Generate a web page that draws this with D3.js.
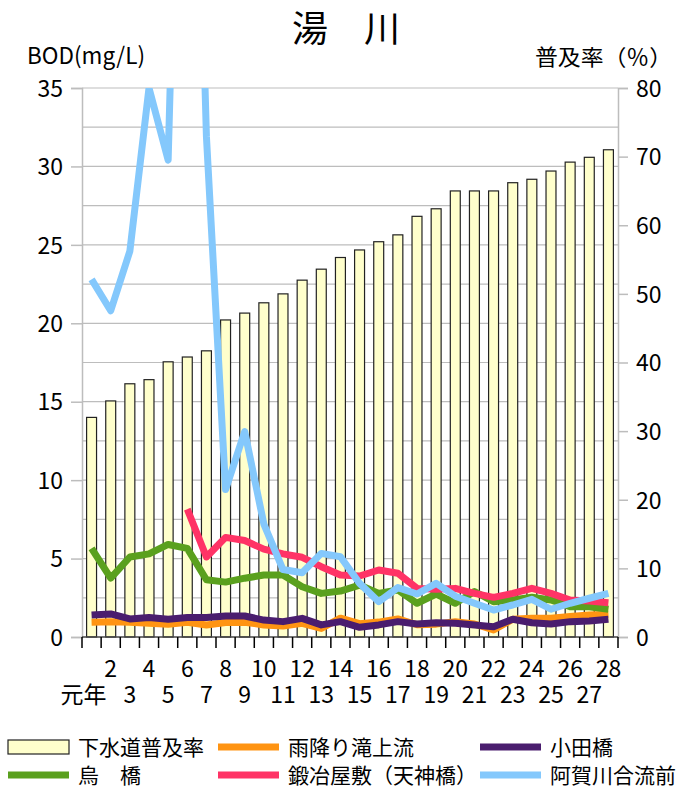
<!DOCTYPE html>
<html>
<head>
<meta charset="utf-8">
<script src="https://cdn.jsdelivr.net/npm/d3@7"></script>
<style>
  body { margin: 0; background: #fff; }
  text { font-family: "Noto Sans CJK JP", "Noto Sans", sans-serif; fill: #000; }
</style>
</head>
<body>
<svg id="chart" width="680" height="794"></svg>
<script>
// 年度 (平成)
var years = ["元年","2","3","4","5","6","7","8","9","10","11","12","13","14",
  "15","16","17","18","19","20","21","22","23","24","25","26","27","28"];

// 下水道普及率 (%)
var sewerRate = [32.0,34.4,36.9,37.5,40.1,40.8,41.7,46.2,47.2,48.7,50.0,52.0,53.6,55.3,
  56.4,57.6,58.6,61.3,62.4,65.0,65.0,65.0,66.2,66.7,67.9,69.2,69.9,71.0];

// BOD (mg/L)
var amefuri = [0.94,0.98,0.94,0.87,0.81,0.94,0.77,0.92,0.94,0.77,0.7,0.87,0.55,1.2,
  0.85,0.95,1.15,0.78,0.82,0.98,0.83,0.45,1.13,1.19,1.19,1.3,1.4,1.45];
var odabashi = [1.4,1.47,1.15,1.25,1.13,1.25,1.25,1.34,1.34,1.08,0.98,1.19,0.77,0.98,
  0.62,0.77,0.98,0.83,0.91,0.87,0.77,0.66,1.13,0.91,0.83,0.98,1.02,1.13];
var karasu = [5.65,3.75,5.1,5.3,5.9,5.65,3.65,3.5,3.75,3.95,3.95,3.2,2.78,2.93,
  3.31,2.78,3.0,2.15,2.74,2.15,2.9,2.25,2.36,2.53,2.36,1.93,1.93,1.77];
var kajiyashiki = [null,null,null,null,null,8.15,5.1,6.35,6.15,5.6,5.3,5.08,4.48,3.95,
  3.89,4.27,4.06,3.1,3.04,3.1,2.78,2.53,2.78,3.1,2.78,2.36,2.3,2.19];
var agagawa = [22.8,20.8,24.6,35,30.4,75,31.9,9.4,13.1,7.2,4.3,4.1,5.33,5.12,
  3.42,2.25,3.15,2.74,3.42,2.6,2.15,1.72,2.04,2.4,1.77,2.15,2.47,2.78];

var leftTicks = [0,5,10,15,20,25,30,35];
var rightTicks = [0,10,20,30,40,50,60,70,80];

var lineSeries = [
  {name: "雨降り滝上流", values: amefuri, color: "#ff9412"},
  {name: "小田橋", values: odabashi, color: "#4a1d6e"},
  {name: "烏　橋", values: karasu, color: "#5aa01e"},
  {name: "鍛冶屋敷（天神橋）", values: kajiyashiki, color: "#ff3366"},
  {name: "阿賀川合流前", values: agagawa, color: "#84c8fc"}
];

var svg = d3.select("#chart");
var plotL = 82, plotR = 618, plotT = 88, plotB = 637;

var x = d3.scaleBand().domain(years).range([plotL, plotR])
  .paddingInner(0.48).paddingOuter(0.24);
var step = x.step();
var yL = d3.scaleLinear().domain([0, 35]).range([plotB, plotT]);
var yR = d3.scaleLinear().domain([0, 80]).range([plotB, plotT]);

// title
svg.append("text").attr("x", 346).attr("y", 42).attr("text-anchor", "middle")
  .style("font-size", "36px").text("湯　川");
svg.append("text").attr("x", 27).attr("y", 64).style("font-size", "23px")
  .attr("textLength", 118).attr("lengthAdjust", "spacingAndGlyphs").text("BOD(mg/L)");
svg.append("text").attr("x", 535).attr("y", 65)
  .style("font-size", "22px").attr("textLength", 137).attr("lengthAdjust", "spacingAndGlyphs")
  .text("普及率（％）");

// gridlines
var grid = d3.range(2.5, 35.01, 2.5);
svg.append("g").selectAll("line").data(grid).enter().append("line")
  .attr("x1", plotL).attr("x2", plotR)
  .attr("y1", function(d){ return yL(d); }).attr("y2", function(d){ return yL(d); })
  .attr("stroke", "#bdbdbd").attr("stroke-width", 1.2);

// left axis
var gl = svg.append("g").attr("transform", "translate(" + plotL + ",0)")
  .call(d3.axisLeft(yL).tickValues(leftTicks).tickSize(11).tickPadding(8));
gl.select(".domain").attr("stroke", "#bdbdbd").attr("stroke-width", 1.5);
gl.selectAll(".tick line").attr("stroke", "#bdbdbd").attr("stroke-width", 1.5);
gl.selectAll("text").style("font-size", "23px").style("font-family", "Noto Sans CJK JP")
  .attr("fill", "#000").attr("dy", "0.36em");

// right axis
var gr = svg.append("g").attr("transform", "translate(" + plotR + ",0)")
  .call(d3.axisRight(yR).tickValues(rightTicks).tickSize(10).tickPadding(8));
gr.select(".domain").attr("stroke", "#bdbdbd").attr("stroke-width", 1.5);
gr.selectAll(".tick line").attr("stroke", "#bdbdbd").attr("stroke-width", 1.5);
gr.selectAll("text").style("font-size", "23px").style("font-family", "Noto Sans CJK JP")
  .attr("fill", "#000").attr("dy", "0.36em");

// bars
svg.append("g").selectAll("rect").data(sewerRate).enter().append("rect")
  .attr("x", function(d, i){ return x(years[i]); })
  .attr("y", function(d){ return yR(d); })
  .attr("width", x.bandwidth())
  .attr("height", function(d){ return plotB - yR(d); })
  .attr("fill", "#ffffcc").attr("stroke", "#222").attr("stroke-width", 1.2);

// x axis
svg.append("line").attr("x1", plotL).attr("x2", plotR).attr("y1", plotB).attr("y2", plotB)
  .attr("stroke", "#444").attr("stroke-width", 1.5);
svg.append("g").selectAll("line").data(d3.range(years.length + 1)).enter().append("line")
  .attr("x1", function(i){ return plotL + i * step; })
  .attr("x2", function(i){ return plotL + i * step; })
  .attr("y1", plotB).attr("y2", plotB + 11)
  .attr("stroke", "#000").attr("stroke-width", 1.5);
svg.append("g").selectAll("text").data(years).enter().append("text")
  .attr("x", function(d, i){ return x(d) + x.bandwidth() / 2 + (i === 0 ? -8 : 0); })
  .attr("y", function(d, i){ return i % 2 === 1 ? 677 : 703; })
  .attr("text-anchor", "middle")
  .style("font-size", "23px").text(function(d){ return d; });

// lines
svg.append("clipPath").attr("id", "plotClip").append("rect")
  .attr("x", plotL).attr("y", plotT).attr("width", plotR - plotL).attr("height", plotB - plotT);

var line = d3.line()
  .defined(function(d){ return d != null; })
  .x(function(d, i){ return x(years[i]) + x.bandwidth() / 2; })
  .y(function(d){ return yL(d); });

svg.append("g").attr("clip-path", "url(#plotClip)").selectAll("path").data(lineSeries).enter()
  .append("path")
  .attr("d", function(s){ return line(s.values); })
  .attr("fill", "none").attr("stroke", function(s){ return s.color; })
  .attr("stroke-width", 7).attr("stroke-linejoin", "round");

// legend
var legendItems = [
  {name: "下水道普及率", bar: true, col: 0, row: 0},
  {name: lineSeries[0].name, color: lineSeries[0].color, col: 1, row: 0},
  {name: lineSeries[1].name, color: lineSeries[1].color, col: 2, row: 0},
  {name: lineSeries[2].name, color: lineSeries[2].color, col: 0, row: 1},
  {name: lineSeries[3].name, color: lineSeries[3].color, col: 1, row: 1},
  {name: lineSeries[4].name, color: lineSeries[4].color, col: 2, row: 1}
];
var colX = [8, 218, 480];
var rowY = [747, 775];
var lg = svg.append("g").selectAll("g").data(legendItems).enter().append("g")
  .attr("transform", function(d){ return "translate(" + colX[d.col] + "," + rowY[d.row] + ")"; });
lg.each(function(d){
  var g = d3.select(this);
  if (d.bar) {
    g.append("rect").attr("x", 0).attr("y", -7).attr("width", 61).attr("height", 14)
      .attr("fill", "#ffffcc").attr("stroke", "#222").attr("stroke-width", 1.2);
  } else {
    g.append("line").attr("x1", 0).attr("x2", 61).attr("y1", 0).attr("y2", 0)
      .attr("stroke", d.color).attr("stroke-width", 7);
  }
  g.append("text").attr("x", 70).attr("y", 8).style("font-size", "21px").text(d.name);
});
</script>
</body>
</html>
